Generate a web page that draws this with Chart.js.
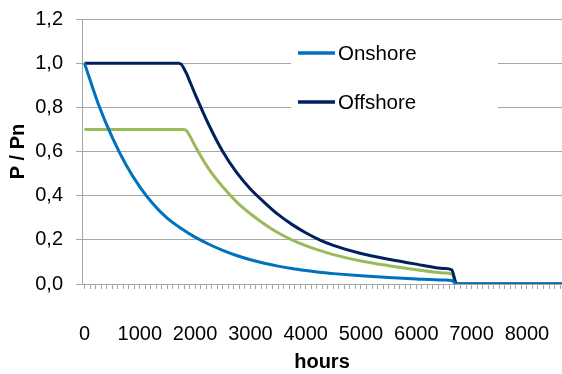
<!DOCTYPE html>
<html>
<head>
<meta charset="utf-8">
<script src="https://cdn.jsdelivr.net/npm/chart.js@4/dist/chart.umd.min.js"></script>
<style>
  html, body { margin: 0; padding: 0; background: #ffffff; }
  #wrap { width: 562px; height: 374px; }
</style>
</head>
<body>
<div id="wrap"><canvas id="c" width="562" height="374"></canvas></div>
<script>
// ---- data ----
const hours = [0, 250, 500, 750, 1000, 1250, 1500, 1700, 1750, 1800, 1850, 1900, 2000, 2250, 2500, 2750, 3000, 3250, 3500, 3750, 4000, 4250, 4500, 5000, 5500, 6000, 6500, 6640, 6730, 7000, 8000, 8760];
const onshore = [1.00, 0.815, 0.665, 0.54, 0.44, 0.36, 0.297, 0.26, 0.251, 0.243, 0.235, 0.227, 0.212, 0.18, 0.152, 0.129, 0.11, 0.094, 0.081, 0.07, 0.061, 0.053, 0.047, 0.037, 0.029, 0.023, 0.018, 0.016, 0, 0, 0, 0];
const offshore = [1.00, 1.00, 1.00, 1.00, 1.00, 1.00, 1.00, 1.00, 0.995, 0.975, 0.95, 0.92, 0.86, 0.72, 0.60, 0.505, 0.43, 0.37, 0.315, 0.27, 0.232, 0.20, 0.175, 0.138, 0.112, 0.09, 0.07, 0.064, 0, 0, 0, 0];
const third = [0.70, 0.70, 0.70, 0.70, 0.70, 0.70, 0.70, 0.70, 0.70, 0.70, 0.693, 0.673, 0.625, 0.52, 0.44, 0.372, 0.318, 0.272, 0.232, 0.20, 0.174, 0.152, 0.133, 0.104, 0.083, 0.065, 0.05, 0.046, 0, 0, 0, 0];
const seriesNames = ['Onshore', 'Offshore', ''];
const seriesColors = ['#0070C0', '#002060', '#9BBB59'];
const xLabelValues = [0, 1000, 2000, 3000, 4000, 5000, 6000, 7000, 8000];
const yTickValues = [0, 0.2, 0.4, 0.6, 0.8, 1.0, 1.2];
const xTitle = 'hours';
const yTitle = 'P / Pn';

const toPts = (vals) => hours.map((h, i) => ({ x: h, y: vals[i] }));

const GRID = '#A6A6A6';
const FONT = 'Liberation Sans, Arial, sans-serif';

const legendPlugin = {
  id: 'insideLegend',
  beforeDatasetsDraw(chart) {
    const ctx = chart.ctx;
    ctx.save();
    ctx.fillStyle = '#ffffff';
    ctx.fillRect(291, 30, 207, 105);
    ctx.restore();
  },
  afterDatasetsDraw(chart) {
    const ctx = chart.ctx;
    const rows = [{ i: 0, y: 53 }, { i: 1, y: 102 }];
    ctx.save();
    rows.forEach(r => {
      const ds = chart.data.datasets[r.i];
      ctx.strokeStyle = ds.borderColor;
      ctx.lineWidth = 3.5;
      ctx.beginPath();
      ctx.moveTo(298, r.y);
      ctx.lineTo(335, r.y);
      ctx.stroke();
      ctx.fillStyle = '#000000';
      ctx.font = '20.5px ' + FONT;
      ctx.textBaseline = 'middle';
      ctx.textAlign = 'left';
      ctx.fillText(ds.label, 338, r.y + 1);
    });
    ctx.restore();
  }
};

new Chart(document.getElementById('c'), {
  type: 'line',
  data: {
    datasets: [0, 1, 2].map(k => ({
      label: seriesNames[k],
      data: toPts([onshore, offshore, third][k]),
      borderColor: seriesColors[k],
      backgroundColor: seriesColors[k],
      borderWidth: 3,
      pointRadius: 0,
      cubicInterpolationMode: 'monotone',
      fill: false
    }))
  },
  options: {
    responsive: false,
    animation: false,
    devicePixelRatio: 1,
    layout: { padding: { top: 19, right: 0, bottom: 0, left: 0 } },
    plugins: { legend: { display: false }, tooltip: { enabled: false } },
    scales: {
      x: {
        type: 'linear',
        min: -45,
        max: 8635,
        afterBuildTicks(scale) {
          const t = [];
          for (let v = 0; v <= 8600; v += 100) t.push({ value: v });
          scale.ticks = t;
        },
        afterFit(scale) {
          scale.height = 90;
          scale.paddingLeft = 0;
          scale.paddingRight = 0;
        },
        ticks: {
          autoSkip: false,
          maxRotation: 0,
          padding: 33,
          color: '#000000',
          font: { family: FONT, size: 20 },
          callback: (v) => xLabelValues.includes(v) ? String(v) : ''
        },
        grid: { display: true, drawOnChartArea: false, drawTicks: true, tickLength: 5, color: GRID, lineWidth: 1 },
        border: { display: true, color: GRID, width: 1 },
        title: { display: true, text: xTitle, color: '#000000', font: { family: FONT, size: 20, weight: 'bold' }, padding: { top: 6, bottom: 0 } }
      },
      y: {
        min: 0,
        max: 1.2,
        afterBuildTicks(scale) {
          scale.ticks = yTickValues.map(v => ({ value: v }));
        },
        afterFit(scale) {
          scale.width = 82;
          scale.paddingTop = 0;
          scale.paddingBottom = 0;
        },
        ticks: {
          padding: 13,
          color: '#000000',
          font: { family: FONT, size: 20 },
          callback: (v) => v.toFixed(1).replace('.', ',')
        },
        grid: { color: GRID, lineWidth: 1, tickLength: 6 },
        border: { display: true, color: GRID, width: 1 },
        title: { display: true, text: yTitle, color: '#000000', font: { family: FONT, size: 20, weight: 'bold' }, padding: { top: 6, bottom: 5 } }
      }
    }
  },
  plugins: [legendPlugin]
});
</script>
</body>
</html>
